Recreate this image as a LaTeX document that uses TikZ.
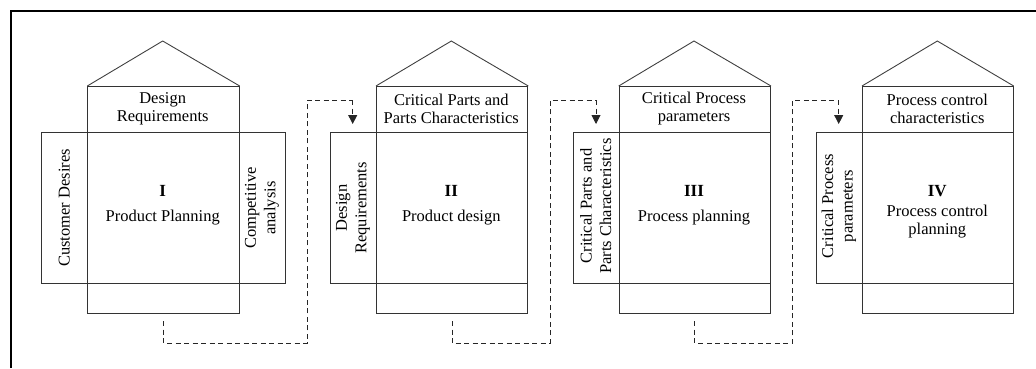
\documentclass[tikz,border=0pt]{standalone}
\usepackage{fontspec}
\setmainfont{Liberation Serif}
\usetikzlibrary{arrows.meta}
\begin{document}
\begin{tikzpicture}[x=1pt,y=-1pt,
  box/.style={draw=black!80, line width=1pt, inner sep=0pt, anchor=north west},
  roof/.style={draw=black!75, line width=0.9pt, line join=miter},
  txt/.style={align=center, inner sep=0pt, font=\fontsize{16.5}{18}\selectfont},
  vtxt/.style={txt, rotate=90, font=\fontsize{16.5}{19.5}\selectfont},
  num/.style={inner sep=0pt, font=\fontsize{17}{18}\selectfont\bfseries},
  conn/.style={draw=black!85, line width=0.9pt, dash pattern=on 5pt off 3.5pt},
  tip/.style={-{Triangle[length=9pt,width=9pt]}},
  frame/.style={draw=black, line width=2.6pt, line join=miter}]
\useasboundingbox (0,0) rectangle (1036,368);
% outer frame (only left and top edges visible)
\draw[frame] (11,368) -- (11,11) -- (1036,11);

% ---------------- House I ----------------
\node[box, minimum width=243.7pt, minimum height=151pt] (wide1) at (41.3,132) {};
\node[box, minimum width=151.4pt, minimum height=227pt] (col1) at (87.3,86) {};
\coordinate (apex1) at (162.7,41);
\draw[roof] (col1.north west) -- (apex1) -- (col1.north east);
\node[txt] (h1) at (162.7,109) {Design\\Requirements};
\node[num] (n1) at (162.7,191) {I};
\node[txt] (l1) at (162.7,218) {Product Planning};
\node[vtxt] (s1) at (64.3,208) {Customer Desires};
\node[vtxt] (r1) at (262,208) {Competitive\\analysis};

% ---------------- House II ----------------
\node[box, minimum width=197.3pt, minimum height=151pt] (wide2) at (330,132) {};
\node[box, minimum width=151.3pt, minimum height=227pt] (col2) at (376,86) {};
\coordinate (apex2) at (451.3,41);
\draw[roof] (col2.north west) -- (apex2) -- (col2.north east);
\node[txt] (h2) at (451.3,109) {Critical Parts and\\Parts Characteristics};
\node[num] (n2) at (451.3,191) {II};
\node[txt] (l2) at (451.3,218) {Product design};
\node[vtxt] (s2) at (353,208) {Design\\Requirements};

% ---------------- House III ----------------
\node[box, minimum width=197.3pt, minimum height=151pt] (wide3) at (572.7,132) {};
\node[box, minimum width=151.3pt, minimum height=227pt] (col3) at (618.7,86) {};
\coordinate (apex3) at (694,41);
\draw[roof] (col3.north west) -- (apex3) -- (col3.north east);
\node[txt] (h3) at (694,109) {Critical Process\\parameters};
\node[num] (n3) at (694,191) {III};
\node[txt] (l3) at (694,218) {Process planning};
\node[vtxt] (s3) at (595.7,206) {Critical Parts and\\Parts Characteristics};

% ---------------- House IV ----------------
\node[box, minimum width=196.7pt, minimum height=151pt] (wide4) at (816,132) {};
\node[box, minimum width=150.7pt, minimum height=227pt] (col4) at (862,86) {};
\coordinate (apex4) at (937.3,41);
\draw[roof] (col4.north west) -- (apex4) -- (col4.north east);
\node[txt] (h4) at (937.3,109) {Process control\\characteristics};
\node[num] (n4) at (937.3,191) {IV};
\node[txt] (l4) at (937.3,222) {Process control\\planning};
\node[vtxt] (s4) at (839,206) {Critical Process\\parameters};

% ---------------- Connectors ----------------
\coordinate (b1) at (307.3,343);
\coordinate (a2) at (352.7,100);
\coordinate (b2) at (550,343);
\coordinate (a3) at (596,100);
\coordinate (b3) at (792.7,343);
\coordinate (a4) at (838.7,100);
\draw[conn] ([yshift=-7pt]col1.south) |- (b1) |- (a2);
\draw[conn, tip] (a2) -- ([yshift=8pt]a2 |- wide2.north);
\draw[conn] ([yshift=-7pt]col2.south) |- (b2) |- (a3);
\draw[conn, tip] (a3) -- ([yshift=8pt]a3 |- wide3.north);
\draw[conn] ([yshift=-7pt]col3.south) |- (b3) |- (a4);
\draw[conn, tip] (a4) -- ([yshift=8pt]a4 |- wide4.north);
\end{tikzpicture}
\end{document}
